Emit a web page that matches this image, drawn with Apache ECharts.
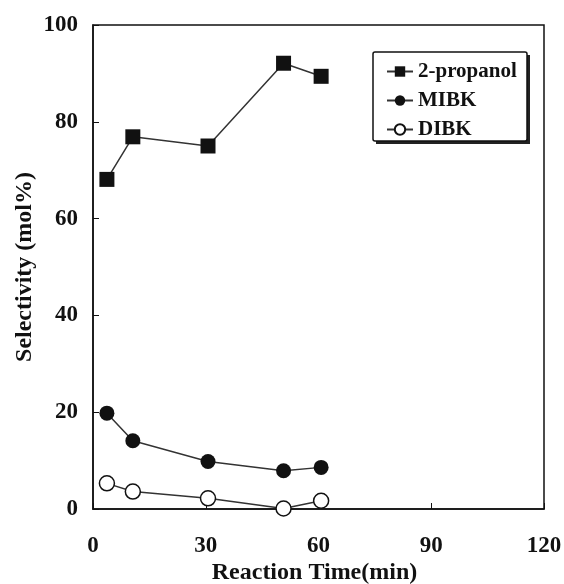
<!DOCTYPE html>
<html>
<head>
<meta charset="utf-8">
<script src="https://cdn.jsdelivr.net/npm/echarts@6/dist/echarts.min.js"></script>
<style>
  html, body { margin: 0; padding: 0; background: #fff; }
  #chart { width: 564px; height: 584px; }
</style>
</head>
<body>
<div id="chart"></div>
<script>
// Reaction time (min) for each sample
const reactionTime = [3.7, 10.6, 30.6, 50.7, 60.7];
// Selectivity (mol%) per product
const propanol = [68.1, 76.9, 75.0, 92.1, 89.4];
const mibk = [19.8, 14.1, 9.8, 7.9, 8.6];
const dibk = [5.3, 3.6, 2.2, 0.1, 1.7];
const xTicks = [0, 30, 60, 90, 120];
const yTicks = [0, 20, 40, 60, 80, 100];

const ink = '#111';
const font = "'Liberation Serif', 'Times New Roman', serif";

function pairs(ys) {
  return reactionTime.map((t, i) => [t, ys[i]]);
}

const chart = echarts.init(document.getElementById('chart'));
chart.setOption({
  backgroundColor: '#fff',
  animation: false,
  textStyle: { fontFamily: font, color: ink, fontWeight: 'bold' },
  grid: {
    left: 93, right: 20, top: 25, bottom: 75,
    outerBoundsMode: 'none', containLabel: false,
    show: true, borderColor: ink, borderWidth: 1.5, backgroundColor: 'transparent'
  },
  // framed legend box with a drop shadow
  graphic: [
    { type: 'rect', z: 90, shape: { x: 376, y: 55, width: 154, height: 89 }, style: { fill: '#222' } },
    { type: 'rect', z: 91, shape: { x: 373, y: 52, width: 154, height: 89, r: 2 },
      style: { fill: '#fff', stroke: ink, lineWidth: 1.5 } }
  ],
  legend: {
    orient: 'vertical',
    left: 386, top: 61,
    padding: 0,
    itemGap: 8,
    itemWidth: 26, itemHeight: 13,
    z: 100,
    textStyle: { fontFamily: font, fontWeight: 'bold', fontSize: 21, color: ink },
    data: ['2-propanol', 'MIBK', 'DIBK']
  },
  xAxis: {
    type: 'value', min: 0, max: 120, interval: 30,
    name: 'Reaction Time(min)', nameLocation: 'middle', nameGap: 52,
    nameMoveOverlap: false,
    nameTextStyle: { fontFamily: font, fontWeight: 'bold', fontSize: 24, color: ink, padding: [0, 8, 0, 0] },
    axisLine: { show: true, lineStyle: { color: ink, width: 1.5 } },
    axisTick: { show: true, inside: true, length: 6, lineStyle: { color: ink } },
    axisLabel: {
      fontFamily: font, fontWeight: 'bold', fontSize: 23, color: ink, margin: 26,
      formatter: v => xTicks.includes(v) ? String(v) : ''
    },
    splitLine: { show: false }
  },
  yAxis: {
    type: 'value', min: 0, max: 100, interval: 20,
    name: 'Selectivity (mol%)', nameLocation: 'middle', nameGap: 56,
    nameMoveOverlap: false,
    nameTextStyle: { fontFamily: font, fontWeight: 'bold', fontSize: 24, color: ink },
    axisLine: { show: true, lineStyle: { color: ink, width: 1.5 } },
    axisTick: { show: true, inside: true, length: 6, lineStyle: { color: ink } },
    axisLabel: {
      fontFamily: font, fontWeight: 'bold', fontSize: 23, color: ink, margin: 15,
      formatter: v => yTicks.includes(v) ? String(v) : ''
    },
    splitLine: { show: false }
  },
  series: [
    {
      name: '2-propanol', type: 'line', data: pairs(propanol),
      symbol: 'rect', symbolSize: 15,
      lineStyle: { color: '#333', width: 1.5 },
      itemStyle: { color: ink, borderColor: ink, borderWidth: 0 }
    },
    {
      name: 'MIBK', type: 'line', data: pairs(mibk),
      symbol: 'circle', symbolSize: 15,
      lineStyle: { color: '#333', width: 1.5 },
      itemStyle: { color: ink, borderColor: ink, borderWidth: 0 }
    },
    {
      name: 'DIBK', type: 'line', data: pairs(dibk),
      symbol: 'circle', symbolSize: 15,
      lineStyle: { color: '#333', width: 1.5 },
      itemStyle: { color: '#fff', borderColor: ink, borderWidth: 1.5 }
    }
  ]
});
</script>
</body>
</html>
